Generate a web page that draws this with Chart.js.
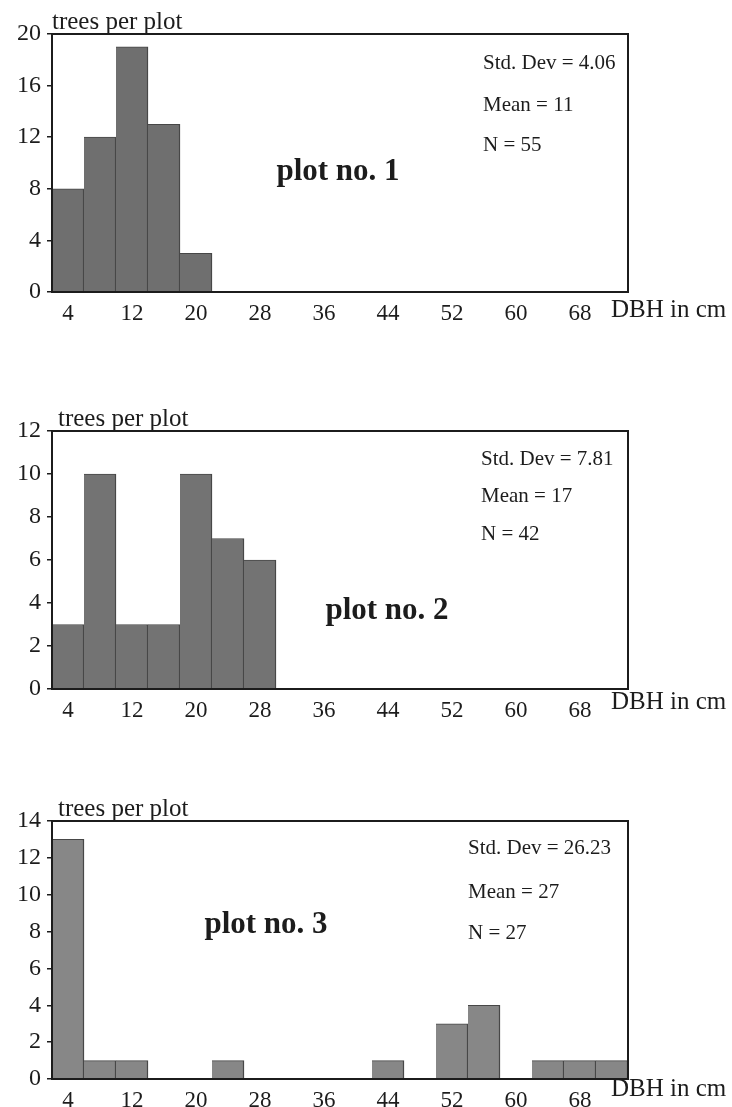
<!DOCTYPE html>
<html>
<head>
<meta charset="utf-8">
<title>DBH distribution per plot</title>
<script src="https://cdn.jsdelivr.net/npm/chart.js@4.4.1/dist/chart.umd.min.js"></script>
<style>
  body { margin: 0; background: #fff; width: 732px; height: 1107px; overflow: hidden; position: relative; }
  .panel { position: absolute; left: 0; width: 732px; height: 320px; }
</style>
</head>
<body>
<div class="panel" style="top:0px"><canvas id="plot1"></canvas></div>
<div class="panel" style="top:397px"><canvas id="plot2"></canvas></div>
<div class="panel" style="top:787px"><canvas id="plot3"></canvas></div>

<script>
// DBH classes (bin centres, cm), 4 cm wide
const dbhBins = ['4','8','12','16','20','24','28','32','36','40','44','48','52','56','60','64','68','72'];
const dbhTickLabels = ['4','12','20','28','36','44','52','60','68'];

// trees per plot in each DBH class
const plot1Trees = [8, 12, 19, 13, 3, 0, 0, 0, 0, 0, 0, 0, 0, 0, 0, 0, 0, 0];
const plot2Trees = [3, 10, 3, 3, 10, 7, 6, 0, 0, 0, 0, 0, 0, 0, 0, 0, 0, 0];
const plot3Trees = [13, 1, 1, 0, 0, 1, 0, 0, 0, 0, 1, 0, 3, 4, 0, 1, 1, 1];

// y axis ranges
const plot1Y = { max: 20, step: 4 };
const plot2Y = { max: 12, step: 2 };
const plot3Y = { max: 14, step: 2 };

const plot1Stats = ['Std. Dev = 4.06', 'Mean = 11', 'N = 55'];
const plot2Stats = ['Std. Dev = 7.81', 'Mean = 17', 'N = 42'];
const plot3Stats = ['Std. Dev = 26.23', 'Mean = 27', 'N = 27'];

const serif = '"Liberation Serif", "Times New Roman", serif';
const ink = '#1c1c1c';

// frame + text around each histogram
const panelDecor = {
  id: 'panelDecor',
  afterDatasetsDraw(chart, args, opts) {
    const { ctx, chartArea: a } = chart;
    ctx.save();
    ctx.strokeStyle = ink;
    ctx.lineWidth = 2;
    ctx.strokeRect(a.left, a.top, a.right - a.left, a.bottom - a.top);

    ctx.fillStyle = ink;
    ctx.textBaseline = 'alphabetic';
    ctx.textAlign = 'left';
    ctx.font = '25px ' + serif;
    ctx.fillText('trees per plot', a.left + opts.yTitleDx, a.top - 5);

    ctx.textBaseline = 'middle';
    ctx.fillText('DBH in cm', a.right - 17, a.bottom + opts.xTitleDy);

    ctx.font = '21px ' + serif;
    opts.stats.forEach((s, i) => {
      ctx.fillText(s, a.left + opts.statsDx, a.top + opts.statsDy[i]);
    });

    ctx.textAlign = 'center';
    ctx.font = 'bold 31px ' + serif;
    ctx.fillText(opts.title, a.left + opts.titleDx, a.top + opts.titleDy);
    ctx.restore();
  }
};

function makeChart(id, trees, yRange, barColor, decor) {
  return new Chart(document.getElementById(id), {
    type: 'bar',
    data: {
      labels: dbhBins,
      datasets: [{
        data: trees,
        backgroundColor: barColor,
        borderColor: '#474747',
        borderWidth: { top: 1, right: 1.5, left: 0, bottom: 0 },
        barPercentage: 1,
        categoryPercentage: 1
      }]
    },
    options: {
      responsive: true,
      maintainAspectRatio: false,
      animation: false,
      layout: { padding: { top: 34, left: 0, right: 104, bottom: 0 } },
      plugins: {
        legend: { display: false },
        tooltip: { enabled: false },
        panelDecor: decor
      },
      scales: {
        x: {
          type: 'category',
          offset: true,
          grid: { display: false },
          border: { display: false },
          afterFit: s => { s.height = 28; },
          ticks: {
            autoSkip: false,
            maxRotation: 0,
            padding: 0,
            color: ink,
            font: { family: serif, size: 23 },
            callback: function (v) {
              const lbl = this.getLabelForValue(v);
              return dbhTickLabels.includes(lbl) ? lbl : '';
            }
          }
        },
        y: {
          min: 0,
          max: yRange.max,
          grid: { display: true, drawOnChartArea: false, tickLength: 5, color: ink, lineWidth: 1.5 },
          border: { display: false },
          afterFit: s => { s.width = 52; },
          ticks: {
            stepSize: yRange.step,
            padding: 6,
            color: ink,
            font: { family: serif, size: 24 }
          }
        }
      }
    },
    plugins: [panelDecor]
  });
}

makeChart('plot1', plot1Trees, plot1Y, '#6f6f6f', {
  stats: plot1Stats, statsDx: 431, statsDy: [29, 71, 111],
  title: 'plot no. 1', titleDx: 286, titleDy: 138, yTitleDx: 0, xTitleDy: 18
});
makeChart('plot2', plot2Trees, plot2Y, '#737373', {
  stats: plot2Stats, statsDx: 429, statsDy: [28, 65, 103],
  title: 'plot no. 2', titleDx: 335, titleDy: 180, yTitleDx: 6, xTitleDy: 13
});
makeChart('plot3', plot3Trees, plot3Y, '#878787', {
  stats: plot3Stats, statsDx: 416, statsDy: [27, 71, 112],
  title: 'plot no. 3', titleDx: 214, titleDy: 104, yTitleDx: 6, xTitleDy: 10
});
</script>
</body>
</html>
